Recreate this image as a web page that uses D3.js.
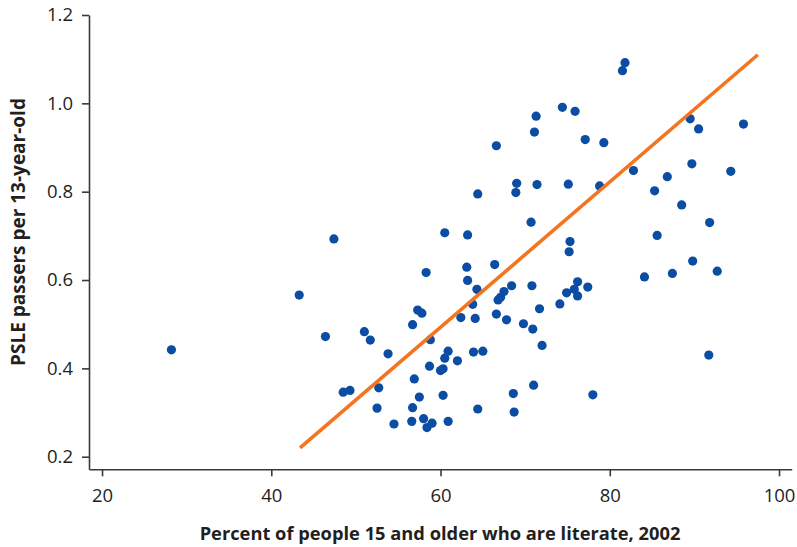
<!DOCTYPE html>
<html>
<head>
<meta charset="utf-8">
<script src="https://cdn.jsdelivr.net/npm/d3@7"></script>
<style>
  html, body { margin: 0; padding: 0; background: #fff; }
  #vis { width: 797px; height: 547px; }
  .tick text { font-family: "Open Sans", sans-serif; font-size: 18.5px; fill: #231f20; }
  .axis-title { font-family: "Open Sans", sans-serif; font-weight: bold; fill: #231f20; }
</style>
</head>
<body>
<div id="vis"></div>
<script>
// literacy rate (%) per district, 2002
var literacy = [
  28.2, 43.3, 47.4, 46.4, 51.0, 51.7, 48.5, 49.3, 53.8, 52.7,
  52.5, 54.5, 56.7, 57.3, 57.8, 58.3, 58.8, 56.9, 57.5, 56.7,
  56.6, 58.0, 58.4, 59.0, 58.7, 60.0, 60.3, 60.5, 60.9, 60.5,
  60.9, 60.3, 63.2, 63.1, 63.2, 64.3, 63.8, 62.4, 64.1, 63.9,
  65.0, 62.0, 64.4, 64.4, 66.4, 66.6, 68.4, 67.5, 66.8, 67.1,
  66.6, 67.8, 69.8, 70.9, 72.0, 68.6, 68.7, 71.0, 69.0, 68.9,
  71.4, 71.3, 71.1, 70.7, 70.8, 71.7, 74.4, 75.9, 75.1, 75.3,
  75.2, 76.2, 77.4, 75.8, 74.9, 76.2, 74.1, 78.0, 77.1, 79.3,
  78.8, 81.8, 81.5, 82.8, 85.3, 85.6, 84.1, 89.5, 90.5, 95.8,
  89.7, 94.3, 86.8, 88.5, 91.8, 87.4, 89.8, 92.7, 91.7
];
// PSLE passers per 13-year-old
var passers = [
  0.442, 0.566, 0.693, 0.472, 0.483, 0.464, 0.346, 0.350, 0.433, 0.356,
  0.310, 0.274, 0.499, 0.532, 0.525, 0.617, 0.465, 0.376, 0.335, 0.311,
  0.280, 0.286, 0.266, 0.276, 0.405, 0.395, 0.399, 0.423, 0.439, 0.707,
  0.280, 0.339, 0.702, 0.629, 0.599, 0.579, 0.545, 0.515, 0.513, 0.437,
  0.439, 0.417, 0.795, 0.308, 0.635, 0.904, 0.587, 0.574, 0.555, 0.561,
  0.523, 0.510, 0.501, 0.489, 0.452, 0.343, 0.301, 0.362, 0.819, 0.798,
  0.816, 0.971, 0.935, 0.731, 0.587, 0.535, 0.991, 0.982, 0.817, 0.687,
  0.664, 0.596, 0.584, 0.579, 0.571, 0.564, 0.546, 0.340, 0.918, 0.911,
  0.813, 1.092, 1.074, 0.848, 0.802, 0.701, 0.607, 0.965, 0.942, 0.953,
  0.863, 0.846, 0.834, 0.770, 0.730, 0.615, 0.643, 0.620, 0.430
];
// fitted line end points
var trendX = [43.4, 97.5];
var trendY = [0.22, 1.11];

var xTicks = [20, 40, 60, 80, 100];
var yTicks = [0.2, 0.4, 0.6, 0.8, 1.0, 1.2];

window.addEventListener('load', function () {
  var svg = d3.select("#vis").append("svg")
    .attr("width", 797)
    .attr("height", 547);

  var x = d3.scaleLinear()
    .domain([18.46, 101.5])
    .range([89, 791.7]);

  var y = d3.scaleLinear()
    .domain([0.1715, 1.2])
    .range([469.3, 15]);

  // axes
  svg.append("g")
    .attr("transform", "translate(0,469.3)")
    .call(d3.axisBottom(x)
      .tickValues(xTicks)
      .tickFormat(d3.format("d"))
      .tickSizeInner(7)
      .tickSizeOuter(0)
      .tickPadding(13));

  svg.append("g")
    .attr("transform", "translate(89,0)")
    .call(d3.axisLeft(y)
      .tickValues(yTicks)
      .tickFormat(d3.format(".1f"))
      .tickSizeInner(7)
      .tickSizeOuter(0)
      .tickPadding(9));

  svg.selectAll(".domain")
    .attr("stroke", "#3a3a3a")
    .attr("stroke-width", 1.6);
  svg.selectAll(".tick line")
    .attr("stroke", "#3a3a3a")
    .attr("stroke-width", 1.6);
  svg.selectAll(".tick text").attr("fill", "#231f20");

  // dots
  svg.append("g")
    .selectAll("circle")
    .data(literacy)
    .enter()
    .append("circle")
    .attr("cx", function (d) { return x(d); })
    .attr("cy", function (d, i) { return y(passers[i]); })
    .attr("r", 4.6)
    .attr("fill", "#0a4da2");

  // trend line
  var line = d3.line()
    .x(function (d) { return x(d); })
    .y(function (d, i) { return y(trendY[i]); });

  svg.append("path")
    .datum(trendX)
    .attr("d", line)
    .attr("fill", "none")
    .attr("stroke", "#f47520")
    .attr("stroke-width", 3.6);

  // axis titles
  svg.append("text")
    .attr("class", "axis-title")
    .attr("text-anchor", "middle")
    .style("font-size", "18.3px")
    .attr("x", 440)
    .attr("y", 540)
    .text("Percent of people 15 and older who are literate, 2002");

  svg.append("text")
    .attr("class", "axis-title")
    .attr("text-anchor", "middle")
    .style("font-size", "19px")
    .attr("transform", "translate(25,232) rotate(-90)")
    .text("PSLE passers per 13-year-old");
});
</script>
</body>
</html>
